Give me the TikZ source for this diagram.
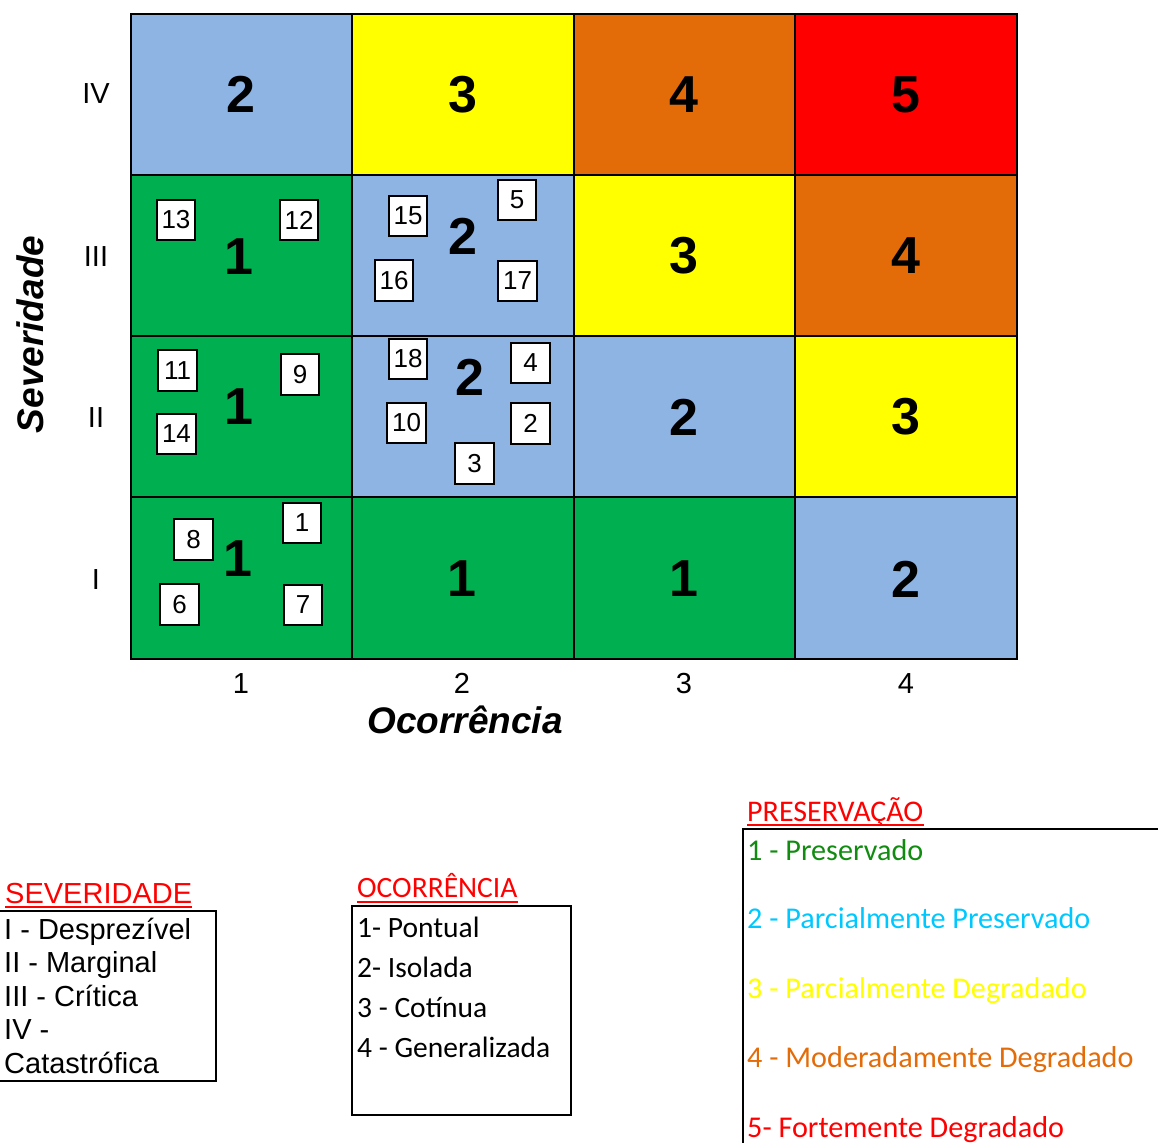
\documentclass[tikz,border=0pt]{standalone}
\usepackage{fontspec}
\setmainfont{Liberation Sans}
\newfontfamily\calfont{Carlito}
\definecolor{cgreen}{HTML}{00B050}
\definecolor{cblue}{HTML}{8EB4E3}
\definecolor{cyellow}{HTML}{FFFF00}
\definecolor{corange}{HTML}{E36C09}
\definecolor{cred}{HTML}{FF0000}
\definecolor{lgreen}{HTML}{118C11}
\definecolor{lcyan}{HTML}{00C8FF}
\definecolor{lorange}{HTML}{E36C09}
\begin{document}
\begin{tikzpicture}[x=1pt,y=-1pt,
  cellbox/.style={draw=black,line width=2pt},
  bignum/.style={inner sep=0pt,font=\fontsize{52}{52}\bfseries\selectfont},
  item/.style={draw=black,fill=white,line width=1.6pt,minimum width=38.5pt,minimum height=40.5pt,inner sep=0pt,font=\fontsize{26}{26}\selectfont},
  axislab/.style={anchor=base,inner sep=0pt,font=\fontsize{29}{29}\selectfont},
  axtitle/.style={anchor=base,inner sep=0pt,font=\fontsize{37}{37}\bfseries\itshape\selectfont},
  sevtxt/.style={anchor=base west,inner sep=0pt,font=\fontsize{29}{29}\selectfont},
  ocotxt/.style={anchor=base west,inner sep=0pt,font=\calfont\fontsize{29.5}{29.5}\selectfont},
  prestxt/.style={anchor=base west,inner sep=0pt,font=\calfont\fontsize{30.2}{30.2}\selectfont},
  legtitle/.style={anchor=base west,inner sep=0pt,text=cred},
  uline/.style={draw=cred,line width=2pt},
  legbox/.style={draw=black,line width=2pt}
]
\useasboundingbox (0,0) rectangle (1158,1142);

% ---- grid cells (row IV .. I, columns 1..4)
\def\xa{131}\def\xb{352}\def\xc{574}\def\xd{795}\def\xe{1017}
\def\ya{14}\def\yb{175}\def\yc{336}\def\yd{497}\def\ye{659}
% row IV
\filldraw[cellbox,fill=cblue]   (\xa,\ya) rectangle (\xb,\yb);
\filldraw[cellbox,fill=cyellow] (\xb,\ya) rectangle (\xc,\yb);
\filldraw[cellbox,fill=corange] (\xc,\ya) rectangle (\xd,\yb);
\filldraw[cellbox,fill=cred]    (\xd,\ya) rectangle (\xe,\yb);
% row III
\filldraw[cellbox,fill=cgreen]  (\xa,\yb) rectangle (\xb,\yc);
\filldraw[cellbox,fill=cblue]   (\xb,\yb) rectangle (\xc,\yc);
\filldraw[cellbox,fill=cyellow] (\xc,\yb) rectangle (\xd,\yc);
\filldraw[cellbox,fill=corange] (\xd,\yb) rectangle (\xe,\yc);
% row II
\filldraw[cellbox,fill=cgreen]  (\xa,\yc) rectangle (\xb,\yd);
\filldraw[cellbox,fill=cblue]   (\xb,\yc) rectangle (\xc,\yd);
\filldraw[cellbox,fill=cblue]   (\xc,\yc) rectangle (\xd,\yd);
\filldraw[cellbox,fill=cyellow] (\xd,\yc) rectangle (\xe,\yd);
% row I
\filldraw[cellbox,fill=cgreen]  (\xa,\yd) rectangle (\xb,\ye);
\filldraw[cellbox,fill=cgreen]  (\xb,\yd) rectangle (\xc,\ye);
\filldraw[cellbox,fill=cgreen]  (\xc,\yd) rectangle (\xd,\ye);
\filldraw[cellbox,fill=cblue]   (\xd,\yd) rectangle (\xe,\ye);
\draw[line width=2.6pt] (\xa,\ya) rectangle (\xe,\ye);

% ---- big numbers
\node[bignum] (n41) at (241,94.5) {2};
\node[bignum] (n42) at (463,94.5) {3};
\node[bignum] (n43) at (684,94.5) {4};
\node[bignum] (n44) at (906,94.5) {5};
\node[bignum] (n31) at (239,257) {1};
\node[bignum] (n32) at (463,236) {2};
\node[bignum] (n33) at (684,256) {3};
\node[bignum] (n34) at (906,256) {4};
\node[bignum] (n21) at (239,407) {1};
\node[bignum] (n22) at (470,377) {2};
\node[bignum] (n23) at (684,417) {2};
\node[bignum] (n24) at (906,417) {3};
\node[bignum] (n11) at (238,559) {1};
\node[bignum] (n12) at (462,579) {1};
\node[bignum] (n13) at (684,579) {1};
\node[bignum] (n14) at (906,579) {2};

% ---- item boxes
\node[item] (b13) at (176,220) {13};
\node[item] (b12) at (299,220) {12};
\node[item] (b15) at (408,216) {15};
\node[item] (b5)  at (517,200) {5};
\node[item] (b16) at (394,280.5) {16};
\node[item] (b17) at (517.5,281) {17};
\node[item] (b11) at (177.5,370.5) {11};
\node[item] (b9)  at (300,374.5) {9};
\node[item] (b14) at (176.5,434) {14};
\node[item] (b18) at (408,359) {18};
\node[item] (b4)  at (530.5,363) {4};
\node[item] (b10) at (406.5,423) {10};
\node[item] (b2)  at (530.5,423.5) {2};
\node[item] (b3)  at (474.5,463.5) {3};
\node[item] (b8)  at (193.5,539.5) {8};
\node[item] (b1)  at (302,523) {1};
\node[item] (b6)  at (179.5,604.5) {6};
\node[item] (b7)  at (303,605) {7};

% ---- axis labels
\node[axislab] (r4) at (96,104) {IV};
\node[axislab] (r3) at (96,266) {III};
\node[axislab] (r2) at (96,427) {II};
\node[axislab] (r1) at (96,589) {I};
\node[axislab] (c1) at (241,693) {1};
\node[axislab] (c2) at (462,693) {2};
\node[axislab] (c3) at (684,693) {3};
\node[axislab] (c4) at (906,693) {4};
\node[axtitle] (xt) at (465,733) {Ocorrência};
\node[axtitle,rotate=90] (yt) at (43,334.5) {Severidade};

% ---- legend: SEVERIDADE
\node[legtitle,font=\fontsize{29}{29}\selectfont] (sevt) at (5,903) {SEVERIDADE};
\draw[uline] ([yshift=-4pt]sevt.base west) -- ([yshift=-4pt]sevt.base east);
\draw[legbox] (-3,911) rectangle (216,1081);
\node[sevtxt] (s1) at (4,939) {I - Desprezível};
\node[sevtxt] (s2) at (4,972.5) {II - Marginal};
\node[sevtxt] (s3) at (4,1006) {III - Crítica};
\node[sevtxt] (s4) at (4,1039.5) {IV -};
\node[sevtxt] (s5) at (4,1073) {Catastrófica};

% ---- legend: OCORRENCIA
\node[legtitle,font=\calfont\fontsize{29.5}{29.5}\selectfont] (ocot) at (357,897) {OCORRÊNCIA};
\draw[uline] ([yshift=-4.5pt]ocot.base west) -- ([yshift=-4.5pt]ocot.base east);
\draw[legbox] (352,906) rectangle (571,1115);
\node[ocotxt] (o1) at (357,937) {1- Pontual};
\node[ocotxt] (o2) at (357,977) {2- Isolada};
\node[ocotxt] (o3) at (357,1017) {3 - Cotínua};
\node[ocotxt] (o4) at (357,1057) {4 - Generalizada};

% ---- legend: PRESERVACAO
\node[legtitle,font=\calfont\fontsize{30}{30}\selectfont] (prt) at (747,821) {PRESERVAÇÃO};
\draw[uline] ([yshift=-4pt]prt.base west) -- ([yshift=-4pt]prt.base east);
\draw[legbox] (742.5,1160) -- (742.5,829) -- (1170,829);
\node[prestxt,text=lgreen]  (p1) at (747,860) {1 - Preservado};
\node[prestxt,text=lcyan]   (p2) at (747,928.5) {2 - Parcialmente Preservado};
\node[prestxt,text=cyellow] (p3) at (747,998) {3 - Parcialmente Degradado};
\node[prestxt,text=lorange] (p4) at (747,1067) {4 - Moderadamente Degradado};
\node[prestxt,text=cred]    (p5) at (747,1137) {5- Fortemente Degradado};
\end{tikzpicture}
\end{document}
